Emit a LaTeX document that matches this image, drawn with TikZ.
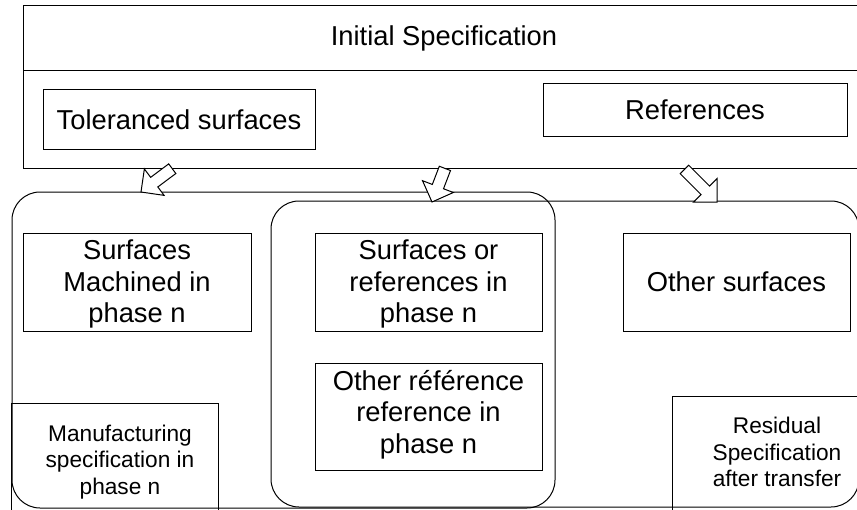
\documentclass[tikz,border=0pt]{standalone}
\usepackage{fontspec}
\setmainfont{Liberation Sans}
\usetikzlibrary{fit}
\begin{document}
\begin{tikzpicture}[x=0.75pt,y=-0.75pt,
  line width=0.75pt,
  box/.style={draw, rectangle, inner sep=0pt},
  big/.style={font=\fontsize{20.5}{23.6}\selectfont, align=center, inner sep=0pt},
  small/.style={font=\fontsize{17}{19.9}\selectfont, align=center, inner sep=0pt},
  rbox/.style={draw, rectangle, rounded corners=21pt, inner sep=0pt},
  blockarrow/.style={draw, fill=white, line width=0.75pt, line join=miter}]
\useasboundingbox (0,0) rectangle (857,510);

% grouping regions
\node[rbox, fit={(12,192) (555,508)}] (zoneL) {};
\node[rbox, fit={(271,201) (859,507)}] (zoneM) {};

% initial specification
\node[box, fit={(23,6) (880,168)}] (initial) {};
\node[big] (initialtitle) at (444,38) {Initial Specification};
\coordinate (divL) at (23,71);
\coordinate (divR) at (880,71);
\draw (divL) -- (divR);
\node[box, fit={(43,90) (315,149)}] (tol) {};
\node[big] (tolT) at (tol.center) {Toleranced surfaces};
\node[box, fit={(543,84) (847,136)}] (refs) {};
\node[big] (refsT) at (refs.center) {References};

% phase boxes
\node[box, fit={(23,233) (251,331)}] (machined) {};
\node[big] (machinedT) at ([yshift=-1.5pt]machined.center) {Surfaces\\Machined in\\phase n};
\node[box, fit={(315,233) (542,331)}] (surfref) {};
\node[big] (surfrefT) at ([yshift=-1.5pt]surfref.center) {Surfaces or\\references in\\phase n};
\node[box, fit={(315,363) (542,470)}] (otherref) {};
\node[big] (otherrefT) at ([yshift=1.5pt]otherref.center) {Other référence\\reference in\\phase n};
\node[box, fit={(623,233) (850,331)}] (othersurf) {};
\node[big] (othersurfT) at (othersurf.center) {Other surfaces};
\node[box, fit={(11,403) (218,525)}] (mfg) {};
\node[small] (mfgT) at (120,462) {Manufacturing\\specification in\\phase n};
\node[box, fit={(672,396) (882,512)}] (resid) {};
\node[small] (residT) at (777,452) {Residual\\Specification\\after transfer};

% block arrows
\coordinate (a1tip) at (141,192);
\coordinate (a2tip) at (432,202);
\coordinate (a3tip) at (717,202);
\draw[blockarrow, shift={(a1tip)}, rotate=216.7]
  (0,0) -- (-16.5,16.5) -- (-16.5,6) -- (-39,6) -- (-39,-6) -- (-16.5,-6) -- (-16.5,-16.5) -- cycle;
\draw[blockarrow, shift={(a2tip)}, rotate=249]
  (0,0) -- (-16.5,16.5) -- (-16.5,6) -- (-36,6) -- (-36,-6) -- (-16.5,-6) -- (-16.5,-16.5) -- cycle;
\draw[blockarrow, shift={(a3tip)}, rotate=-45]
  (0,0) -- (-16.5,16.5) -- (-16.5,6) -- (-46,6) -- (-46,-6) -- (-16.5,-6) -- (-16.5,-16.5) -- cycle;
\end{tikzpicture}
\end{document}
